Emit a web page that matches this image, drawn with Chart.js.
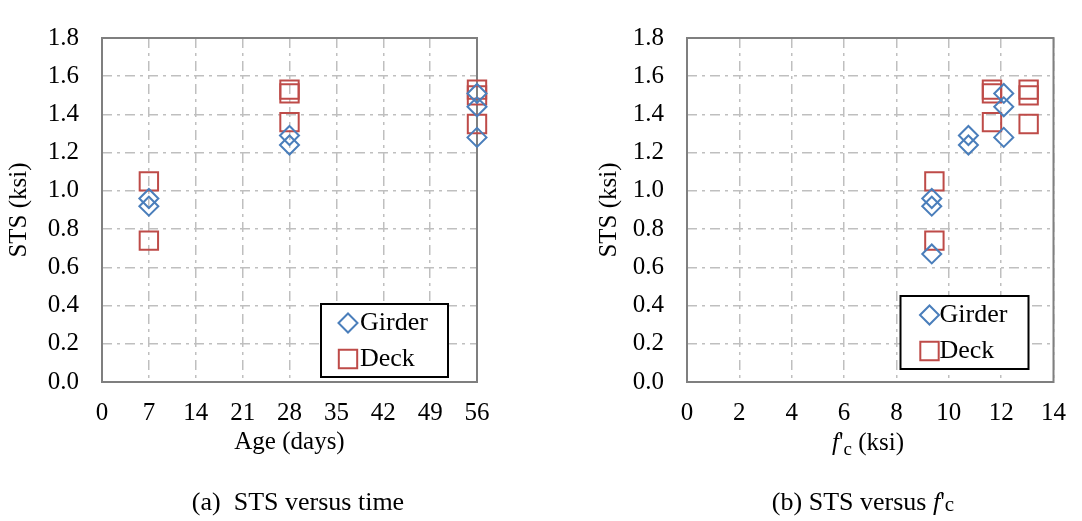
<!DOCTYPE html>
<html>
<head>
<meta charset="utf-8">
<script src="https://cdn.jsdelivr.net/npm/chart.js@4.4.0/dist/chart.umd.min.js"></script>
<style>
  html, body { margin: 0; padding: 0; background: #fff; }
  #wrap { position: relative; width: 1082px; height: 521px; }
  .box { position: absolute; top: 0; width: 541px; height: 521px; }
</style>
</head>
<body>
<div id="wrap">
  <div class="box" style="left:0"><canvas id="age"></canvas></div>
  <div class="box" style="left:541px"><canvas id="fc"></canvas></div>
</div>
<script>
// (a) STS versus age
const ageGirderX = [7, 7, 28, 28, 56, 56, 56];
const ageGirderY = [0.96, 0.92, 1.29, 1.24, 1.51, 1.44, 1.28];
const ageDeckX = [7, 7, 28, 28, 28, 56, 56, 56];
const ageDeckY = [1.05, 0.74, 1.53, 1.51, 1.36, 1.53, 1.50, 1.35];

// (b) STS versus f'c
const fcGirderX = [9.35, 9.35, 9.35, 10.75, 10.75, 12.1, 12.1, 12.1];
const fcGirderY = [0.96, 0.92, 0.67, 1.29, 1.24, 1.51, 1.44, 1.28];
const fcDeckX = [9.45, 9.45, 11.65, 11.65, 11.65, 13.05, 13.05, 13.05];
const fcDeckY = [1.05, 0.74, 1.53, 1.51, 1.36, 1.53, 1.50, 1.35];

const seriesNames = ["Girder", "Deck"];
const yTitle = "STS (ksi)";

const FONT = "'Liberation Serif', 'Times New Roman', serif";
const BLUE = "#4a7ebb";
const RED = "#be4b48";

function pts(xs, ys) {
    return xs.map((x, i) => ({x: x, y: ys[i]}));
}

function datasets(gx, gy, dx, dy) {
    return [
        {
            label: seriesNames[0],
            data: pts(gx, gy),
            pointStyle: "rectRot",
            pointRadius: 9.5,
            pointHoverRadius: 9.5,
            borderColor: BLUE,
            backgroundColor: "rgba(0,0,0,0)",
            borderWidth: 2,
            clip: false
        },
        {
            label: seriesNames[1],
            data: pts(dx, dy),
            pointStyle: "rect",
            pointRadius: 13,
            pointHoverRadius: 13,
            borderColor: RED,
            backgroundColor: "rgba(0,0,0,0)",
            borderWidth: 2,
            clip: false
        }
    ];
}

// plot area frame
const frame = {
    id: "frame",
    beforeDatasetsDraw(chart) {
        const {ctx, chartArea: a} = chart;
        ctx.save();
        ctx.strokeStyle = "#7f7f7f";
        ctx.lineWidth = 2;
        ctx.strokeRect(a.left, a.top, a.right - a.left, a.bottom - a.top);
        ctx.restore();
    }
};

// legend with a black box, placed inside the plot area
const boxLegend = {
    id: "boxLegend",
    afterDraw(chart, args, o) {
        const {ctx, chartArea: a} = chart;
        const x = a.right - o.right - o.w;
        const y = a.bottom - o.bottom - o.h;
        ctx.save();
        ctx.fillStyle = "#fff";
        ctx.fillRect(x, y, o.w, o.h);
        ctx.strokeStyle = "#000";
        ctx.lineWidth = 2;
        ctx.strokeRect(x, y, o.w, o.h);
        chart.data.datasets.forEach((ds, i) => {
            const cy = y + 19 + i * 36;
            ctx.fillStyle = "#fff";
            ctx.strokeStyle = ds.borderColor;
            ctx.lineWidth = 2;
            Chart.helpers.drawPoint(ctx, {pointStyle: ds.pointStyle, radius: ds.pointRadius, borderWidth: 2, rotation: 0}, x + o.mx, cy);
            ctx.fillStyle = "#000";
            ctx.font = "26px " + FONT;
            ctx.textAlign = "left";
            ctx.textBaseline = "middle";
            ctx.fillText(ds.label, x + 39, cy);
        });
        ctx.restore();
    }
};

// draws a line of text made of differently styled pieces, centred on cx
function richText(ctx, parts, cx, base) {
    let w = 0;
    parts.forEach(p => { ctx.font = p.font; p.w = ctx.measureText(p.t).width; w += p.w; });
    let x = cx - w / 2;
    ctx.textAlign = "left";
    ctx.textBaseline = "alphabetic";
    ctx.fillStyle = "#000";
    parts.forEach(p => {
        ctx.font = p.font;
        ctx.fillText(p.t, x, base + (p.dy || 0));
        x += p.w;
    });
}

const texts = {
    id: "texts",
    afterDraw(chart, args, o) {
        const ctx = chart.ctx;
        ctx.save();
        if (o.xTitle) richText(ctx, o.xTitle, o.xTitleX, 450);
        richText(ctx, o.caption, o.captionX, 510);
        ctx.restore();
    }
};

function makeChart(id, ds, xMax, xStep, padLeft, padRight, yTitlePad, xTitle, opts) {
    return new Chart(document.getElementById(id), {
        type: "scatter",
        data: {datasets: ds},
        options: {
            animation: false,
            responsive: true,
            maintainAspectRatio: false,
            devicePixelRatio: 1,
            layout: {padding: {left: padLeft, right: padRight, top: 18, bottom: 0}},
            plugins: {
                legend: {display: false},
                tooltip: {enabled: false},
                boxLegend: opts.legend,
                texts: opts.texts
            },
            scales: {
                x: {
                    type: "linear",
                    min: 0,
                    max: xMax,
                    ticks: {stepSize: xStep, padding: 16, color: "#000", font: {family: FONT, size: 25}},
                    grid: {color: "#bfbfbf", lineWidth: 1.5, drawTicks: false},
                    border: {display: false, dash: [10, 5, 3, 5]},
                    title: {
                        display: !!xTitle,
                        text: xTitle || "",
                        color: "#000",
                        font: {family: FONT, size: 25},
                        padding: {top: 0, bottom: 64}
                    },
                    afterFit(s) { s.height = 139; }
                },
                y: {
                    min: 0,
                    max: 1.8,
                    ticks: {
                        stepSize: 0.2,
                        padding: 23,
                        color: "#000",
                        font: {family: FONT, size: 25},
                        callback: v => v.toFixed(1)
                    },
                    grid: {color: "#bfbfbf", lineWidth: 1.5, drawTicks: false},
                    border: {display: false, dash: [10, 5, 3, 5]},
                    title: {
                        display: true,
                        text: yTitle,
                        color: "#000",
                        font: {family: FONT, size: 25},
                        padding: {top: yTitlePad, bottom: 0}
                    },
                    afterFit(s) { s.width = 102; }
                }
            }
        },
        plugins: [frame, boxLegend, texts]
    });
}

const capFont = "26px " + FONT;
const capItal = "italic 26px " + FONT;

makeChart("age", datasets(ageGirderX, ageGirderY, ageDeckX, ageDeckY), 56, 7, 0, 64, 4, "Age (days)", {
    legend: {w: 127, h: 73, right: 29, bottom: 5, mx: 27},
    texts: {
        caption: [{t: "(a)  STS versus time", font: capFont}],
        captionX: 298
    }
});

makeChart("fc", datasets(fcGirderX, fcGirderY, fcDeckX, fcDeckY), 14, 2, 44, 20, 9, null, {
    legend: {w: 128, h: 73, right: 25, bottom: 13, mx: 29},
    texts: {
        xTitle: [
            {t: "f", font: "italic 25px " + FONT},
            {t: "'", font: "25px " + FONT},
            {t: "c", font: "19px " + FONT, dy: 5},
            {t: " (ksi)", font: "25px " + FONT}
        ],
        xTitleX: 327,
        caption: [
            {t: "(b) STS versus ", font: capFont},
            {t: "f", font: capItal},
            {t: "'", font: capFont},
            {t: "c", font: "21px " + FONT, dy: 1}
        ],
        captionX: 322
    }
});
</script>
</body>
</html>
